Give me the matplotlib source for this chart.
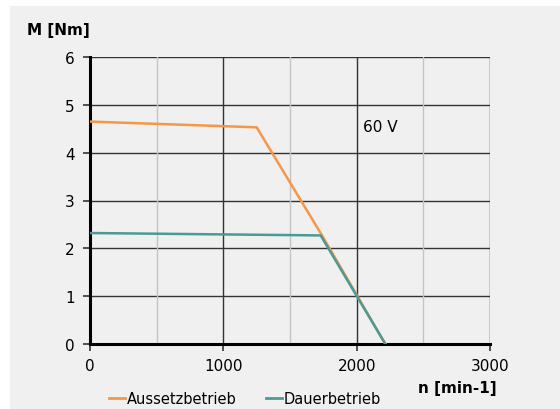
import matplotlib
matplotlib.use("Agg")
import matplotlib.pyplot as plt
from matplotlib.patches import Rectangle
from matplotlib.lines import Line2D

# Data
aussetz_n = [0, 1250, 1740, 2215]
aussetz_m = [4.65, 4.53, 2.27, 0.0]
dauer_n = [0, 1730, 2215]
dauer_m = [2.32, 2.27, 0.0]
x_ticks = [0, 1000, 2000, 3000]
y_ticks = [0, 1, 2, 3, 4, 5, 6]
minor_x = [500, 1500, 2500]

plt.rcParams['font.family'] = ['DejaVu Sans']
fig = plt.figure(figsize=(5.6, 4.1), dpi=100)
fig.patch.set_facecolor('white')
bg = '#f0f0f0'
fig.patches.append(Rectangle((10/560, 0), 1 - 10/560, 1 - 7/410, transform=fig.transFigure,
                             facecolor=bg, edgecolor='none', zorder=-10))

ax = fig.add_axes([90/560, 1 - 345/410, 400/560, (345 - 58)/410])
ax.set_facecolor(bg)
ax.set_xlim(0, 3000)
ax.set_ylim(0, 6)

for y in y_ticks[1:]:
    ax.axhline(y, color='#333333', lw=1.0, zorder=1)
for x in [1000, 2000, 3000]:
    ax.axvline(x, color='#333333', lw=1.0, zorder=1)
for x in minor_x:
    ax.axvline(x, color='#c4c4c4', lw=1.0, zorder=1)

ax.plot(aussetz_n, aussetz_m, color='#f79646', lw=1.8, zorder=3, solid_joinstyle='miter')
ax.plot(dauer_n, dauer_m, color='#4a9a96', lw=1.8, zorder=4, solid_joinstyle='miter')

for s in ['top', 'right']:
    ax.spines[s].set_visible(False)
ax.spines['left'].set_linewidth(2.2)
ax.spines['bottom'].set_linewidth(2.2)
ax.spines['left'].set_color('black')
ax.spines['bottom'].set_color('black')

ax.set_xticks(x_ticks)
ax.set_yticks(y_ticks)
ax.tick_params(axis='both', direction='out', length=5, width=1.2, labelsize=11, color='#333333')
ax.tick_params(axis='x', pad=5)
ax.tick_params(axis='y', pad=6)

ax.text(2050, 4.54, '60 V', fontsize=11, ha='left', va='center')

fig.text(27/560, 1 - 30/410, 'M [Nm]', fontsize=11, fontweight='bold', ha='left', va='center')
fig.text(497/560, 1 - 389/410, 'n [min-1]', fontsize=11, fontweight='bold', ha='right', va='center')

handles = [Line2D([], [], color='#f79646', lw=2), Line2D([], [], color='#4a9a96', lw=2)]
fig.legend(handles, ['Aussetzbetrieb', 'Dauerbetrieb'], loc='center', bbox_to_anchor=(245/560, 1 - 400/410),
           ncol=2, frameon=False, fontsize=10.5, handlelength=1.1, handletextpad=0.1, columnspacing=2.0)

fig.savefig('out.png', dpi=100, facecolor='white')
